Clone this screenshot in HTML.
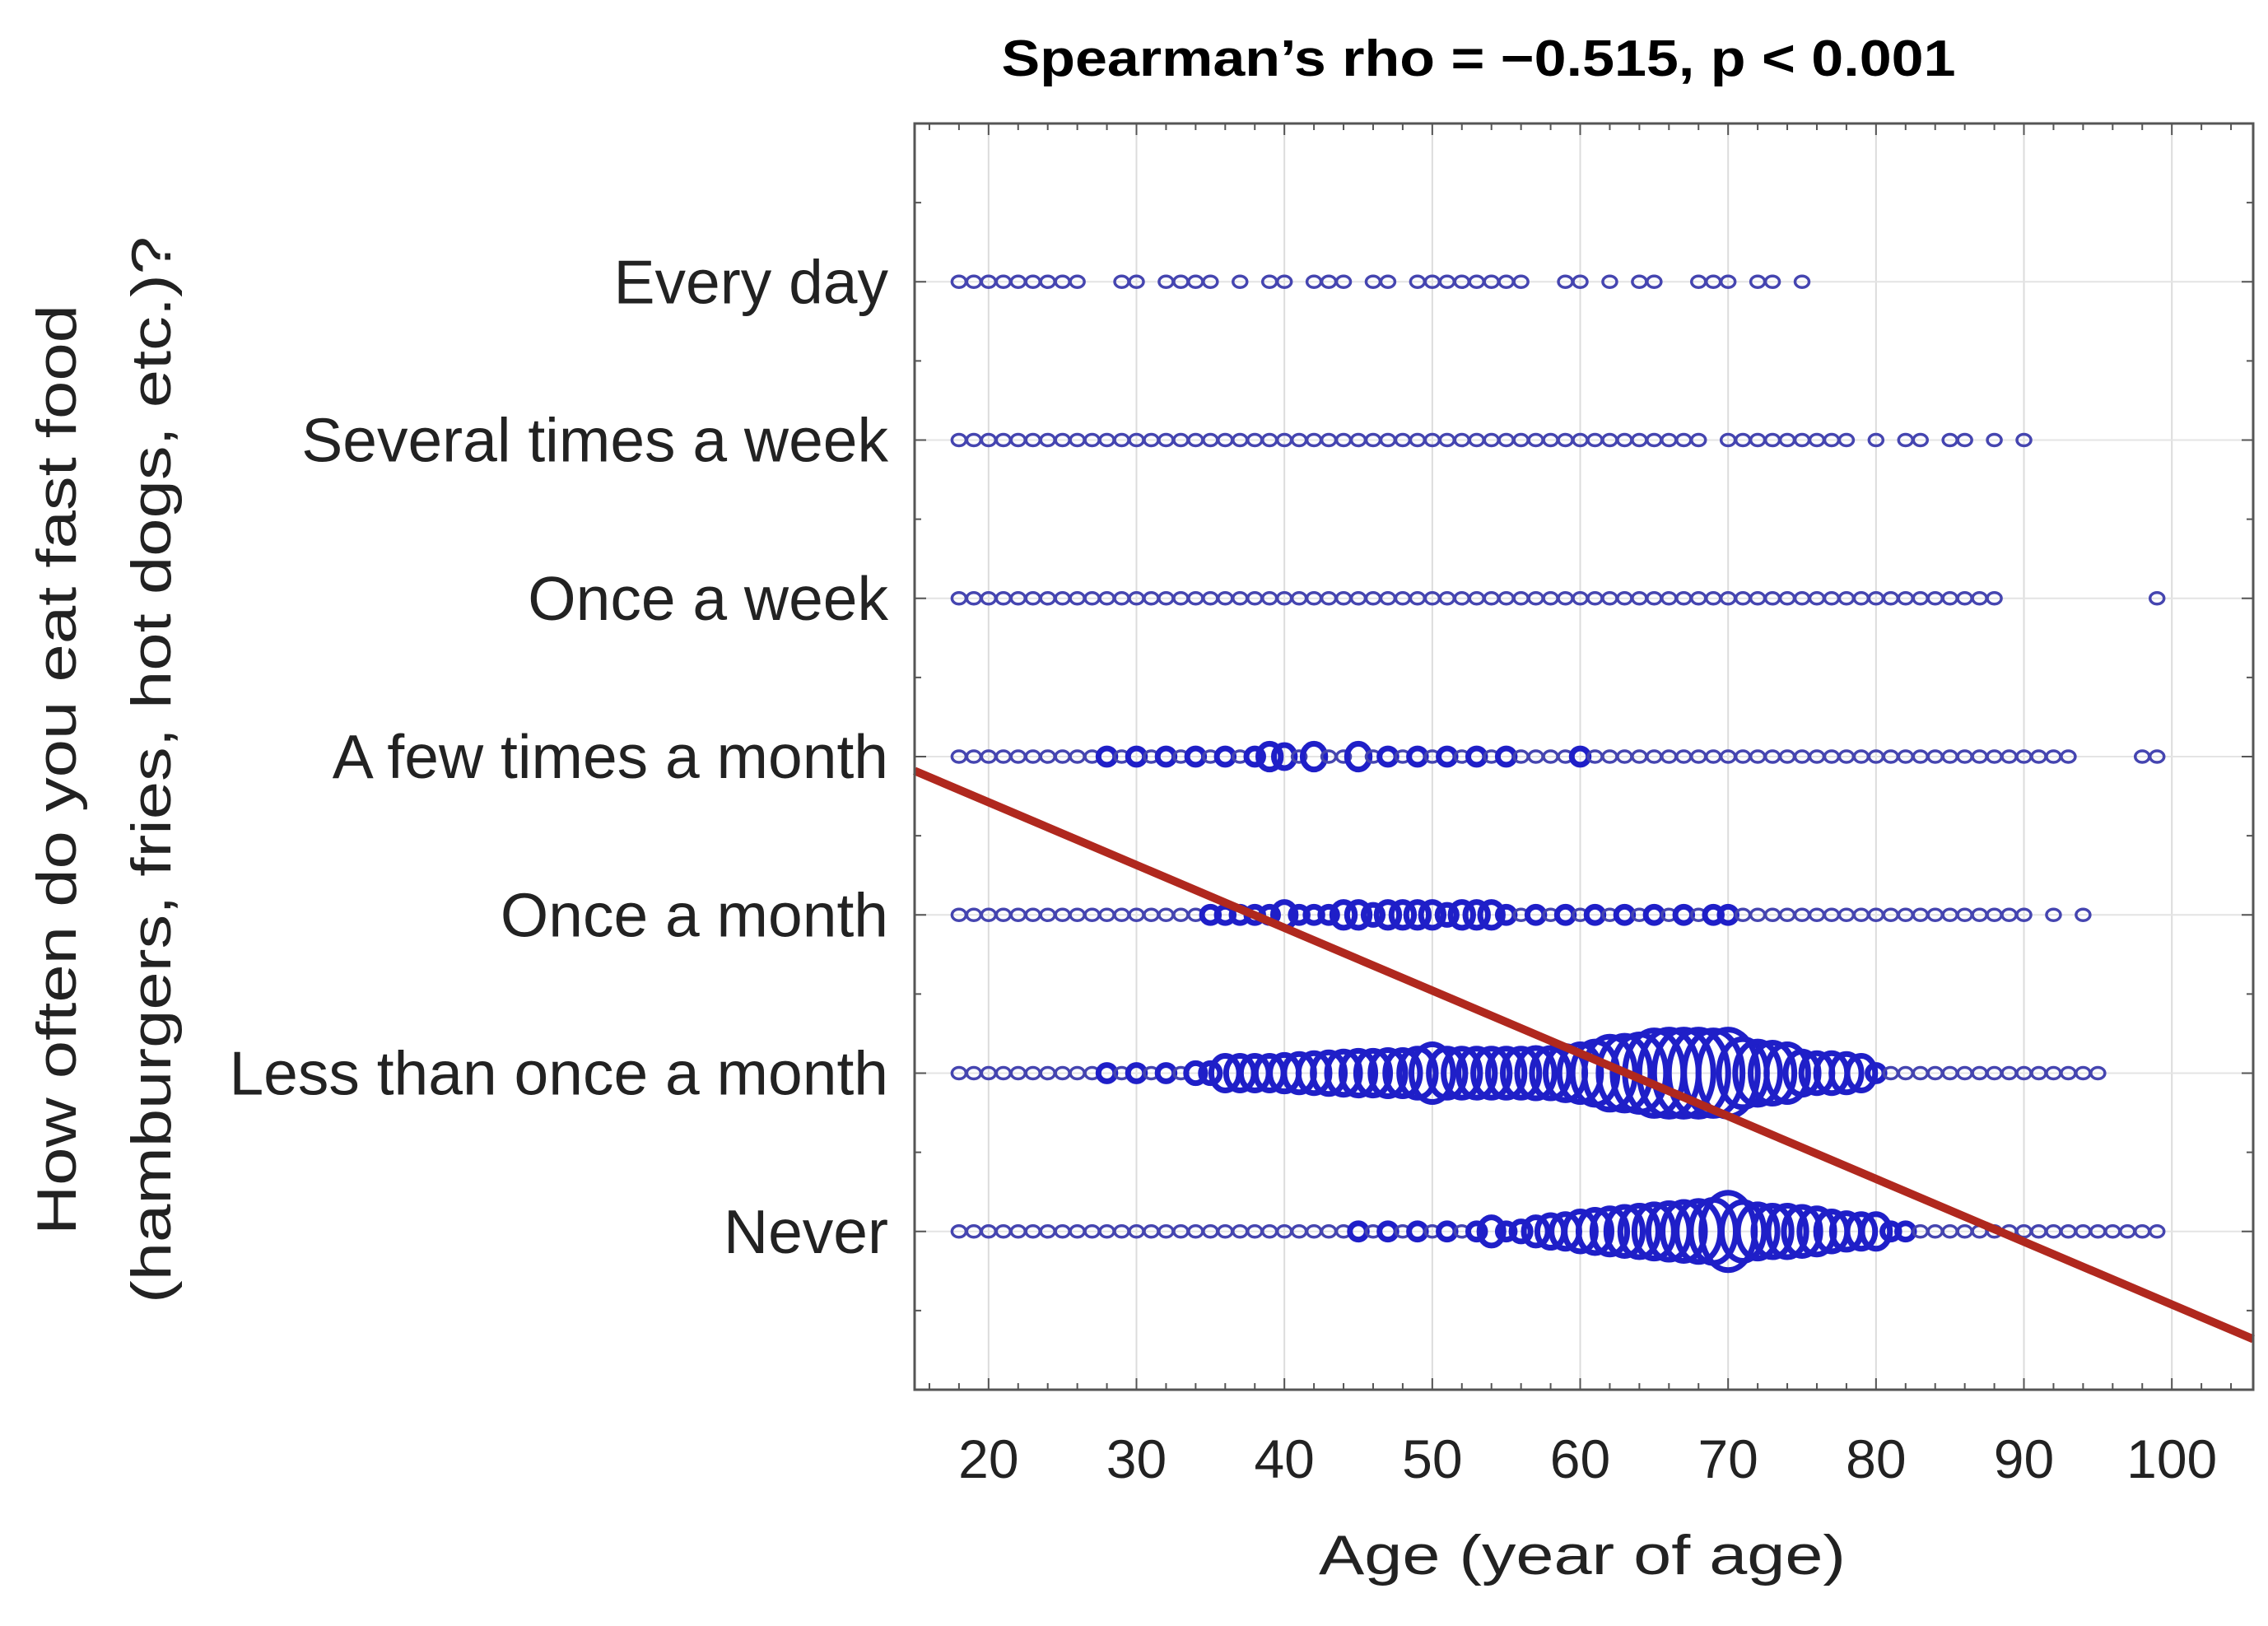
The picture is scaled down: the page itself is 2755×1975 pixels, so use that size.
<!DOCTYPE html>
<html><head><meta charset="utf-8">
<style>
html,body{margin:0;padding:0;background:#fff;}
svg{display:block;}
text{font-family:"Liberation Sans",sans-serif;fill:#222;}
</style></head>
<body>
<svg id="chart" width="2755" height="1975" viewBox="0 0 2755 1975" xmlns="http://www.w3.org/2000/svg">
<text x="1796" y="92" text-anchor="middle" font-size="62" font-weight="bold" style="fill:#000" textLength="1159" lengthAdjust="spacingAndGlyphs">Spearman’s rho = −0.515, p &lt; 0.001</text>
<g id="grid"></g>
<g id="marks"></g>
<g id="axes"></g>
<text x="1922" y="1912" text-anchor="middle" font-size="68" textLength="640" lengthAdjust="spacingAndGlyphs">Age (year of age)</text>
<g>
<text x="0" y="0" transform="translate(92,935) rotate(-90)" text-anchor="middle" font-size="68" textLength="1130" lengthAdjust="spacingAndGlyphs">How often do you eat fast food</text>
<text x="0" y="0" transform="translate(207,935) rotate(-90)" text-anchor="middle" font-size="68" textLength="1296" lengthAdjust="spacingAndGlyphs">(hamburgers, fries, hot dogs, etc.)?</text>
</g>
</svg>
<script>
const categories = ["Every day","Several times a week","Once a week","A few times a month","Once a month","Less than once a month","Never"];
const xTicks = [20,30,40,50,60,70,80,90,100];
// age segments present per category [start,end]
const seg0 = [[18,26],[29,30],[32,35],[37,37],[39,40],[42,44],[46,47],[49,56],[59,60],[62,62],[64,65],[68,70],[72,73],[75,75]];
const seg1 = [[18,68],[70,78],[80,80],[82,83],[85,86],[88,88],[90,90]];
const seg2 = [[18,88],[99,99]];
const seg3 = [[18,93],[98,99]];
const seg4 = [[18,90],[92,92],[94,94]];
const seg5 = [[18,95]];
const seg6 = [[18,99]];
// larger counts (age -> count), default count 1
const big3Ages = [28,30,32,34,36,38,39,40,42,45,47,49,51,53,55,60];
const big3Counts = [2,2,2,2,2,2,5,4,5,5,2,2,2,2,2,2];
const big4Ages = [35,36,37,38,39,40,41,42,43,44,45,46,47,48,49,50,51,52,53,54,55,57,59,61,63,65,67,69,70];
const big4Counts = [2,2,2,2,2,5,2,2,2,5,5,3,5,5,5,5,3,5,5,5,2,2,2,2,2,2,2,2,2];
const big5Ages = [28,30,32,34,35,36,37,38,39,40,41,42,43,44,45,46,47,48,49,50,51,52,53,54,55,56,57,58,59,60,61,62,63,64,65,66,67,68,69,70,71,72,73,74,75,76,77,78,79,80];
const big5Counts = [2,2,2,3,3,9,9,9,9,10,11,12,13,14,15,15,16,16,18,25,18,18,18,18,18,18,19,19,22,25,30,40,42,45,55,57,57,57,55,57,35,30,28,25,14,12,12,11,9,2];
const big6Ages = [45,47,49,51,53,54,55,56,57,58,59,60,61,62,63,64,65,66,67,68,69,70,71,72,73,74,75,76,77,78,79,80,81,82];
const big6Counts = [2,2,2,2,2,6,2,3,6,8,9,12,14,16,18,20,22,24,26,28,30,45,26,22,20,20,18,16,12,10,9,9,2,2];
const segs = [seg0,seg1,seg2,seg3,seg4,seg5,seg6];
const bigAges = [[],[],[],big3Ages,big4Ages,big5Ages,big6Ages];
const bigCounts = [[],[],[],big3Counts,big4Counts,big5Counts,big6Counts];
// regression line endpoints (age, category index units)
const fitX = [15,105.5];
const fitY = [3.09,6.68];

const L=1111,R=2737,T=150,B=1688, X0=15, X1=105.5, Y0=-1, Y1=7;
const sx = v => L + (v-X0)/(X1-X0)*(R-L);
const sy = v => T + (v-Y0)/(Y1-Y0)*(B-T);
const NS="http://www.w3.org/2000/svg";
function mk(tag, parent, attrs){const e=document.createElementNS(NS,tag);for(const k in attrs)e.setAttribute(k,attrs[k]);parent.appendChild(e);return e;}
const grid=document.getElementById('grid'), marks=document.getElementById('marks'), axes=document.getElementById('axes');

xTicks.forEach(t=>{
  const g=mk('line',grid,{x1:sx(t),x2:sx(t),y1:T,y2:B,stroke:'#dcdcdc','stroke-width':2});
  
  
});
categories.forEach((c,i)=>{
  const g=mk('line',grid,{x1:L,x2:R,y1:sy(i),y2:sy(i),stroke:'#e4e4e4','stroke-width':2});
  
  
});

segs.forEach((sg,i)=>{
  const cnt={};
  bigAges[i].forEach((a,j)=>cnt[a]=bigCounts[i][j]);
  sg.forEach(([a0,a1])=>{
    for(let a=a0;a<=a1;a++){
      const n=cnt[a]||1;
      const ry=7*Math.sqrt(n);
      const rx=n>1?8.5+(ry-7)*0.6:8.5;
      const el=mk('ellipse',marks,{cx:sx(a),cy:sy(i),rx:rx,ry:ry,fill:'none',stroke:n>1?'#1f1fc8':'#4545b0','stroke-width':n>1?7:3.5});
      
      
    }
  });
});

const fit=mk('line',marks,{x1:sx(fitX[0]),y1:sy(fitY[0]),x2:sx(fitX[1]),y2:sy(fitY[1]),stroke:'#b0281e','stroke-width':10});



const frame=mk('rect',axes,{x:L,y:T,width:R-L,height:B-T,fill:'none',stroke:'#555','stroke-width':3});


for(let v=16;v<=105;v+=2){
  const t1=mk('line',axes,{x1:sx(v),x2:sx(v),y1:B,y2:B-(v%10===0?14:8),stroke:'#555','stroke-width':2});
  
  
  const t2=mk('line',axes,{x1:sx(v),x2:sx(v),y1:T,y2:T+(v%10===0?14:8),stroke:'#555','stroke-width':2});
  
  
}
for(let v=-1;v<=7;v+=0.5){
  const t=mk('line',axes,{x1:L,x2:L+(Number.isInteger(v)?14:8),y1:sy(v),y2:sy(v),stroke:'#555','stroke-width':2});
  
  
  const t2=mk('line',axes,{x1:R,x2:R-(Number.isInteger(v)?14:8),y1:sy(v),y2:sy(v),stroke:'#555','stroke-width':2});
  
  
}
xTicks.forEach(t=>{
  const tx=mk('text',axes,{x:sx(t),y:1795,'text-anchor':'middle','font-size':66});
  tx.textContent=t;
  
  
});
categories.forEach((c,i)=>{
  const tx=mk('text',axes,{x:1079,y:sy(i)+26,'text-anchor':'end','font-size':75});
  tx.textContent=c;
  
  
});
</script>
</body></html>
